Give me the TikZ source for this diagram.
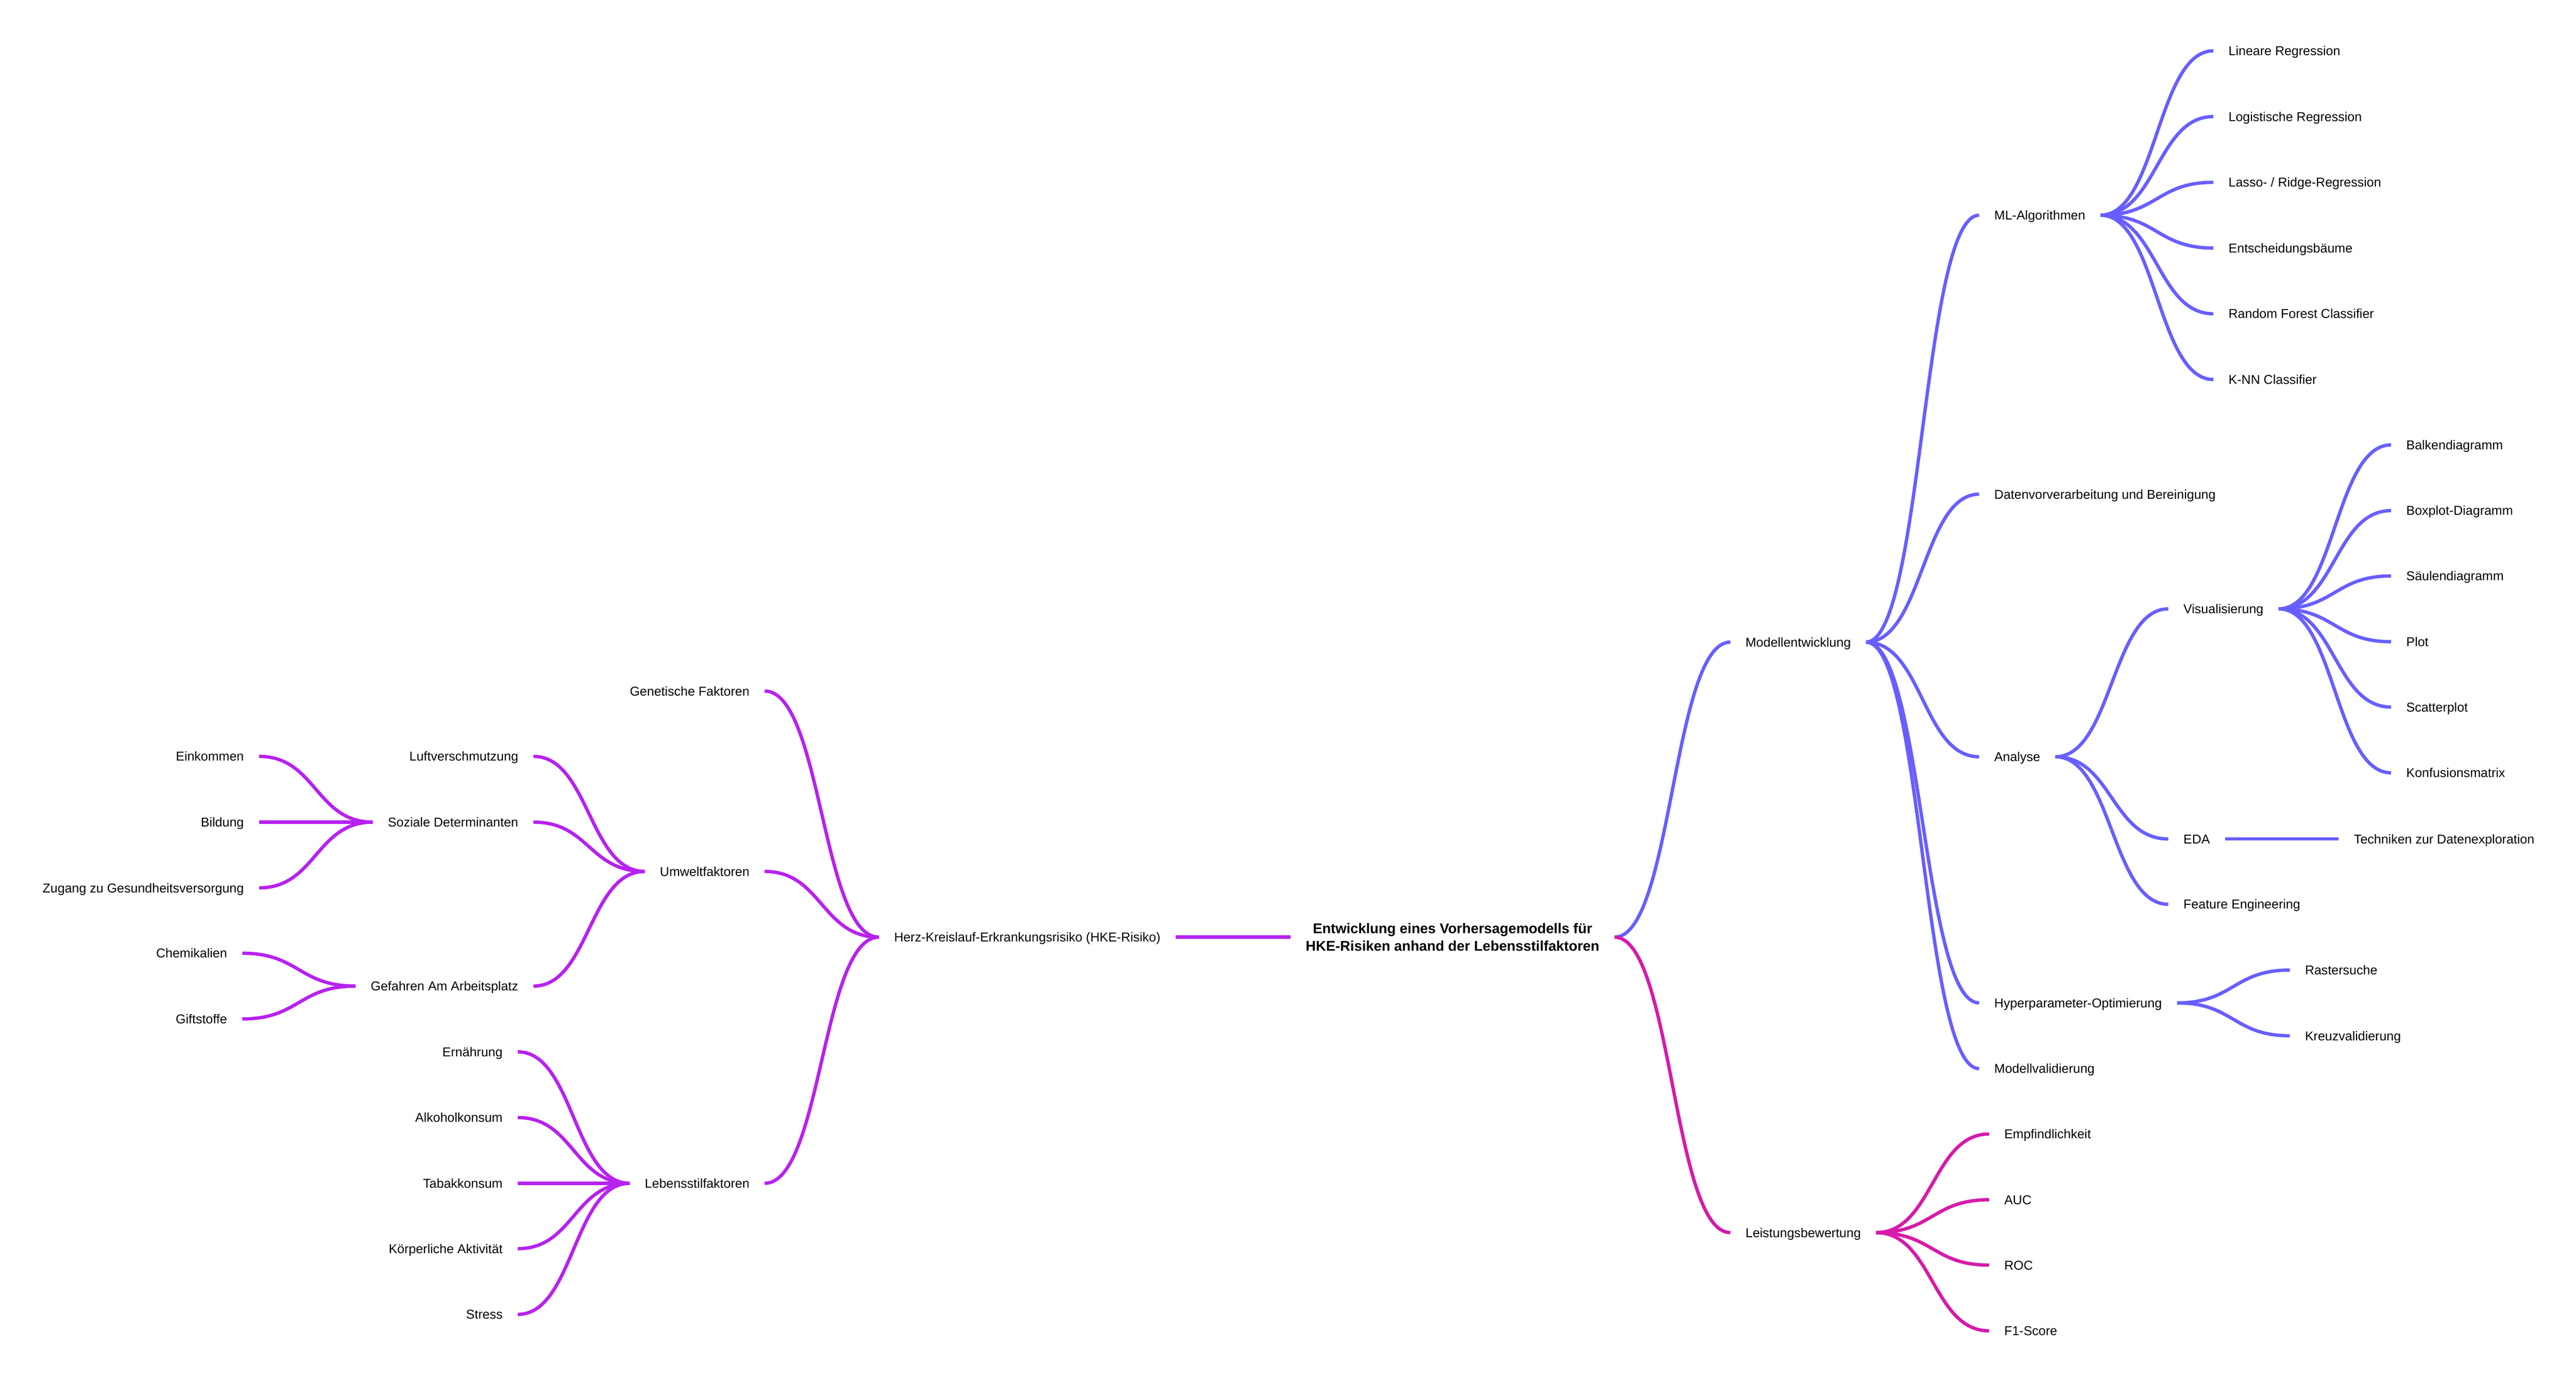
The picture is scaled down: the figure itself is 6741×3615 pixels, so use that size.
\documentclass[tikz,border=0pt]{standalone}
\usepackage{fontspec}
\setmainfont{Liberation Sans}
\usetikzlibrary{calc}
\definecolor{cblue}{RGB}{104,94,255}
\definecolor{cpurple}{RGB}{183,33,240}
\definecolor{cmag}{RGB}{214,26,170}
\tikzset{
  lbl/.style={inner xsep=9.75pt, inner ysep=0pt, text height=6.07pt, text depth=0pt,
    font=\fontsize{8.43pt}{10pt}\selectfont},
  rt/.style={lbl, anchor=west},
  lt/.style={lbl, anchor=east},
  lnk/.style={line width=2.2pt},
}
\newcommand\lnkR[3]{\draw[lnk,#3] let \p1=(#1.east), \p2=(#2.west) in (\p1) .. controls ({(\x1+\x2)/2},\y1) and ({(\x1+\x2)/2},\y2) .. (\p2);}
\newcommand\lnkL[3]{\draw[lnk,#3] let \p1=(#1.west), \p2=(#2.east) in (\p1) .. controls ({(\x1+\x2)/2},\y1) and ({(\x1+\x2)/2},\y2) .. (\p2);}
\begin{document}
\begin{tikzpicture}[x=0.25pt,y=-0.25pt]
\useasboundingbox (0,0) rectangle (6741,3615);
% root
\node[font=\fontsize{9.22pt}{11.15pt}\selectfont\bfseries, align=center, inner xsep=9.75pt, inner ysep=0pt]
  (root) at (3801,2452) {Entwicklung eines Vorhersagemodells für\\HKE-Risiken anhand der Lebensstilfaktoren};
% ---------- left side ----------
\node[rt] (hke) at (2300,2452) {Herz-Kreislauf-Erkrankungsrisiko (HKE-Risiko)};
\node[lt] (gen) at (2001,1808) {Genetische Faktoren};
\node[lt] (umw) at (2001,2280) {Umweltfaktoren};
\node[lt] (leb) at (2001,3096) {Lebensstilfaktoren};
\node[lt] (luft) at (1396,1979) {Luftverschmutzung};
\node[lt] (soz) at (1396,2151) {Soziale Determinanten};
\node[lt] (gef) at (1396,2580) {Gefahren Am Arbeitsplatz};
\node[lt] (ein) at (678,1979) {Einkommen};
\node[lt] (bil) at (678,2151) {Bildung};
\node[lt] (zug) at (678,2323) {Zugang zu Gesundheitsversorgung};
\node[lt] (che) at (634,2494) {Chemikalien};
\node[lt] (gif) at (634,2666) {Giftstoffe};
\node[lt] (ern) at (1355,2752) {Ernährung};
\node[lt] (alk) at (1355,2924) {Alkoholkonsum};
\node[lt] (tab) at (1355,3096) {Tabakkonsum};
\node[lt] (koe) at (1355,3267) {Körperliche Aktivität};
\node[lt] (str) at (1355,3439) {Stress};
% ---------- right side ----------
\node[rt] (mod) at (4528,1680) {Modellentwicklung};
\node[rt] (lei) at (4528,3225) {Leistungsbewertung};
\node[rt] (mla) at (5179,563) {ML-Algorithmen};
\node[rt] (dat) at (5179,1293) {Datenvorverarbeitung und Bereinigung};
\node[rt] (ana) at (5179,1980) {Analyse};
\node[rt] (hyp) at (5179,2624) {Hyperparameter-Optimierung};
\node[rt] (mval) at (5179,2796) {Modellvalidierung};
\node[rt] (lin) at (5792,133) {Lineare Regression};
\node[rt] (log) at (5792,305) {Logistische Regression};
\node[rt] (las) at (5792,477) {Lasso- / Ridge-Regression};
\node[rt] (ent) at (5792,649) {Entscheidungsbäume};
\node[rt] (rfc) at (5792,821) {Random Forest Classifier};
\node[rt] (knn) at (5792,993) {K-NN Classifier};
\node[rt] (vis) at (5674,1593) {Visualisierung};
\node[rt] (eda) at (5674,2195) {EDA};
\node[rt] (fea) at (5674,2366) {Feature Engineering};
\node[rt] (bal) at (6257,1164) {Balkendiagramm};
\node[rt] (box) at (6257,1336) {Boxplot-Diagramm};
\node[rt] (sae) at (6257,1507) {Säulendiagramm};
\node[rt] (plo) at (6257,1679) {Plot};
\node[rt] (sca) at (6257,1850) {Scatterplot};
\node[rt] (kon) at (6257,2022) {Konfusionsmatrix};
\node[rt] (tec) at (6120,2195) {Techniken zur Datenexploration};
\node[rt] (ras) at (5992,2538) {Rastersuche};
\node[rt] (kre) at (5992,2710) {Kreuzvalidierung};
\node[rt] (emp) at (5205,2967) {Empfindlichkeit};
\node[rt] (auc) at (5205,3139) {AUC};
\node[rt] (roc) at (5205,3310) {ROC};
\node[rt] (f1s) at (5205,3482) {F1-Score};
% ---------- links left ----------
\lnkL{root}{hke}{cpurple}
\lnkL{hke}{gen}{cpurple}
\lnkL{hke}{umw}{cpurple}
\lnkL{hke}{leb}{cpurple}
\lnkL{umw}{luft}{cpurple}
\lnkL{umw}{soz}{cpurple}
\lnkL{umw}{gef}{cpurple}
\lnkL{soz}{ein}{cpurple}
\lnkL{soz}{bil}{cpurple}
\lnkL{soz}{zug}{cpurple}
\lnkL{gef}{che}{cpurple}
\lnkL{gef}{gif}{cpurple}
\lnkL{leb}{ern}{cpurple}
\lnkL{leb}{alk}{cpurple}
\lnkL{leb}{tab}{cpurple}
\lnkL{leb}{koe}{cpurple}
\lnkL{leb}{str}{cpurple}
% ---------- links right ----------
\lnkR{root}{mod}{cblue}
\lnkR{mod}{mla}{cblue}
\lnkR{mod}{dat}{cblue}
\lnkR{mod}{ana}{cblue}
\lnkR{mod}{hyp}{cblue}
\lnkR{mod}{mval}{cblue}
\lnkR{mla}{lin}{cblue}
\lnkR{mla}{log}{cblue}
\lnkR{mla}{las}{cblue}
\lnkR{mla}{ent}{cblue}
\lnkR{mla}{rfc}{cblue}
\lnkR{mla}{knn}{cblue}
\lnkR{ana}{vis}{cblue}
\lnkR{ana}{eda}{cblue}
\lnkR{ana}{fea}{cblue}
\lnkR{vis}{bal}{cblue}
\lnkR{vis}{box}{cblue}
\lnkR{vis}{sae}{cblue}
\lnkR{vis}{plo}{cblue}
\lnkR{vis}{sca}{cblue}
\lnkR{vis}{kon}{cblue}
\lnkR{eda}{tec}{cblue}
\lnkR{hyp}{ras}{cblue}
\lnkR{hyp}{kre}{cblue}
\lnkR{root}{lei}{cmag}
\lnkR{lei}{emp}{cmag}
\lnkR{lei}{auc}{cmag}
\lnkR{lei}{roc}{cmag}
\lnkR{lei}{f1s}{cmag}
\end{tikzpicture}
\end{document}
